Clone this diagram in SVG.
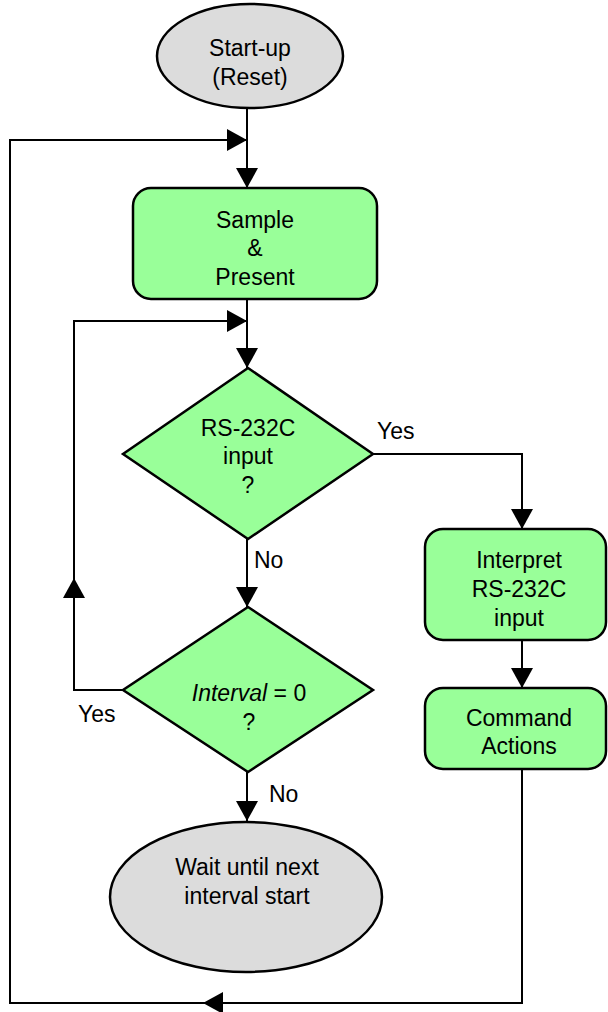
<svg xmlns="http://www.w3.org/2000/svg" width="608" height="1012" viewBox="0 0 608 1012">
<style>
.t{font-family:"Liberation Sans",Arial,sans-serif;font-size:23px;fill:#000}
.c{text-anchor:middle}
.g{fill:#99ff99;stroke:#000;stroke-width:2.5}
.e{fill:#dcdcdc;stroke:#000;stroke-width:2.5}
.l{fill:none;stroke:#000;stroke-width:2}
</style>
<defs>
<marker id="ah" viewBox="0 0 20 22" refX="20" refY="11" markerWidth="20" markerHeight="22" markerUnits="userSpaceOnUse" orient="auto">
<path d="M0,0 L20,11 L0,22 z" fill="#000"/>
</marker>
</defs>
<rect width="608" height="1012" fill="#fff"/>
<g id="connectors" class="l">
<path d="M247,108 L247,188" marker-end="url(#ah)"/>
<path d="M247,299 L247,368" marker-end="url(#ah)"/>
<path d="M373,454 L522,454 L522,529" marker-end="url(#ah)"/>
<path d="M522,640 L522,688" marker-end="url(#ah)"/>
<path d="M247,539 L247,607" marker-end="url(#ah)"/>
<path d="M247,772 L247,821" marker-end="url(#ah)"/>
<path d="M123,690 L74,690 L74,578" marker-end="url(#ah)"/>
<path d="M74,578 L74,321 L247,321" marker-end="url(#ah)"/>
<path d="M522,769 L522,1003 L203,1003" marker-end="url(#ah)"/>
<path d="M203,1003 L10,1003 L10,140 L247,140" marker-end="url(#ah)"/>
</g>
<g id="start">
<ellipse class="e" cx="250" cy="56" rx="93" ry="52"/>
<text class="t c" x="250" y="56">Start-up</text>
<text class="t c" x="250" y="85">(Reset)</text>
</g>
<g id="sample">
<rect class="g" x="133" y="188" width="244" height="111" rx="18"/>
<text class="t c" x="255" y="228">Sample</text>
<text class="t c" x="255" y="256">&amp;</text>
<text class="t c" x="255" y="285">Present</text>
</g>
<g id="rs232">
<polygon class="g" points="248,368 373,454 248,539 123,454"/>
<text class="t c" x="248" y="436">RS-232C</text>
<text class="t c" x="248" y="464">input</text>
<text class="t c" x="248" y="493">?</text>
</g>
<g id="interpret">
<rect class="g" x="425" y="529" width="181" height="111" rx="18"/>
<text class="t c" x="519" y="568">Interpret</text>
<text class="t c" x="519" y="597">RS-232C</text>
<text class="t c" x="519" y="626">input</text>
</g>
<g id="command">
<rect class="g" x="425" y="688" width="181" height="81" rx="18"/>
<text class="t c" x="519" y="726">Command</text>
<text class="t c" x="519" y="754">Actions</text>
</g>
<g id="interval">
<polygon class="g" points="248,607 373,690 248,772 123,690"/>
<text class="t c" x="249" y="701"><tspan font-style="italic">Interval</tspan> = 0</text>
<text class="t c" x="249" y="730">?</text>
</g>
<g id="wait">
<ellipse class="e" cx="246" cy="897" rx="136" ry="75"/>
<text class="t c" x="247" y="875">Wait until next</text>
<text class="t c" x="247" y="904">interval start</text>
</g>
<g id="labels">
<text class="t" x="377" y="439">Yes</text>
<text class="t" x="254" y="568">No</text>
<text class="t" x="78" y="722">Yes</text>
<text class="t" x="269" y="802">No</text>
</g>
</svg>
